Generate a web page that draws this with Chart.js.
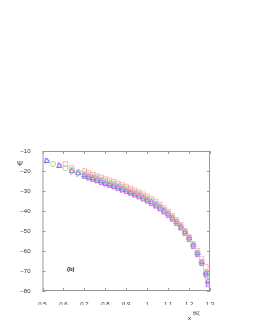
<!DOCTYPE html>
<html>
<head>
<meta charset="utf-8">
<script src="https://cdn.jsdelivr.net/npm/chart.js@4.4.0/dist/chart.umd.min.js"></script>
<style>
  html, body { margin: 0; padding: 0; background: #fff; }
  #wrap { position: relative; width: 253px; height: 327px; }
</style>
</head>
<body>
<div id="wrap"><canvas id="myChart" width="253" height="327"></canvas></div>
<script>
// valores
const xVals = [0.52,0.55,0.58,0.61,0.64,0.67,0.70,0.72,0.74,0.76,0.78,0.80,0.82,0.84,0.86,0.88,0.90,0.92,0.94,0.96,0.98,1.00,1.02,1.04,1.06,1.08,1.10,1.12,1.14,1.16,1.18,1.20,1.22,1.24,1.26,1.28,1.29];
const psiSquares = [null,null,null,-16.5,-18.5,null,-20,-21,-21.8,-22.5,-23.2,-24,-24.7,-25.4,-26.2,-27,-27.8,-28.7,-29.6,-30.6,-31.6,-32.7,-34,-35.3,-36.8,-38.5,-40.3,-42.3,-44.5,-47,-49.8,-53,-56.5,-60,-64,-68,-71];
const psiCircles = [null,-16.5,null,-18.5,-19.5,-20.5,-21.2,-22,-22.8,-23.5,-24.3,-25,-25.7,-26.5,-27.3,-28,-28.8,-29.7,-30.6,-31.5,-32.6,-33.7,-35,-36.3,-37.8,-39.4,-41.2,-43.2,-45.3,-47.7,-50.4,-53.4,-57,-61,-65.5,-71,-74];
const psiTriUp = [-15,null,-17.5,null,-20,-21,-22,-22.8,-23.5,-24.2,-25,-25.8,-26.5,-27.2,-28,-28.8,-29.6,-30.4,-31.3,-32.2,-33.2,-34.3,-35.5,-36.8,-38.2,-39.8,-41.5,-43.4,-45.5,-47.8,-50.5,-53.5,-57,-61,-65.5,-71,-75];
const psiTriRight = [-14.8,null,-17,null,-20.5,-21.5,-22.5,-23.3,-24,-24.8,-25.6,-26.4,-27.1,-27.8,-28.6,-29.4,-30.2,-31,-31.9,-32.8,-33.8,-34.9,-36.1,-37.4,-38.8,-40.4,-42.1,-44,-46.1,-48.4,-51.1,-54.1,-57.6,-61.6,-66.2,-71.8,-76];
const psiSqPurple = [null,null,null,null,null,null,-22.8,-23.6,-24.3,-25,-25.8,-26.6,-27.3,-28,-28.8,-29.6,-30.4,-31.2,-32.1,-33,-34,-35.1,-36.3,-37.6,-39,-40.6,-42.3,-44.2,-46.3,-48.6,-51.3,-54.3,-57.8,-61.8,-66.4,-72,-77];
const xTicks = [0.5,0.6,0.7,0.8,0.9,1,1.1,1.2,1.3];
const yTicks = [-10,-20,-30,-40,-50,-60,-70,-80];

function pts(ys) {
    return xVals.map((x, i) => ({ x: x, y: ys[i] })).filter(p => p.y !== null);
}

// marcas de los ejes hacia dentro, tambien arriba y a la derecha
const innerTicks = {
    id: 'innerTicks',
    afterDraw(chart) {
        const { ctx, chartArea: a, scales } = chart;
        ctx.save();
        ctx.strokeStyle = '#999';
        ctx.lineWidth = 1;
        ctx.strokeRect(a.left + 0.5, a.top + 0.5, a.right - a.left - 1, a.bottom - a.top - 1);
        ctx.beginPath();
        xTicks.forEach(v => {
            const px = Math.round(scales.x.getPixelForValue(v)) + 0.5;
            ctx.moveTo(px, a.bottom); ctx.lineTo(px, a.bottom - 3);
            ctx.moveTo(px, a.top); ctx.lineTo(px, a.top + 3);
        });
        yTicks.forEach(v => {
            const py = Math.round(scales.y.getPixelForValue(v)) + 0.5;
            ctx.moveTo(a.left, py); ctx.lineTo(a.left + 3, py);
            ctx.moveTo(a.right, py); ctx.lineTo(a.right - 3, py);
        });
        ctx.stroke();
        // textos
        ctx.fillStyle = '#222';
        ctx.font = '7px "Liberation Sans"';
        ctx.textAlign = 'center';
        ctx.fillText('Ψ', 20, 166);
        ctx.font = 'bold 6px "Liberation Sans"';
        ctx.fillText('(b)', scales.x.getPixelForValue(0.635), scales.y.getPixelForValue(-69) + 2);
        ctx.font = '6px "Liberation Sans"';
        ctx.textAlign = 'left';
        ctx.fillText('x', 188, 320);
        ctx.font = '5px "Liberation Sans"';
        ctx.fillText('θ/ζ', 193, 315);
        ctx.restore();
    }
};

const ctx = document.getElementById('myChart').getContext('2d');
const myChart = new Chart(ctx, {
    type: 'scatter',
    data: {
        datasets: [
            { data: pts(psiSquares), pointStyle: 'rect', borderColor: 'rgba(255,150,160,0.9)', pointRadius: 3.2 },
            { data: pts(psiCircles), pointStyle: 'circle', borderColor: 'rgba(120,220,120,0.9)', pointRadius: 2.6 },
            { data: pts(psiTriUp), pointStyle: 'triangle', borderColor: 'rgba(90,90,240,0.9)', pointRadius: 3 },
            { data: pts(psiTriRight), pointStyle: 'triangle', rotation: 90, borderColor: 'rgba(235,90,235,0.9)', pointRadius: 3 },
            { data: pts(psiSqPurple), pointStyle: 'rect', borderColor: 'rgba(170,90,240,0.9)', pointRadius: 2.5 }
        ].map(d => Object.assign({ backgroundColor: 'rgba(0,0,0,0)', borderWidth: 0.8 }, d))
    },
    options: {
        responsive: false,
        animation: false,
        layout: { padding: { left: 0, top: 151, right: 43, bottom: 22 } },
        plugins: { legend: { display: false }, tooltip: { enabled: false } },
        scales: {
            x: {
                type: 'linear', min: 0.5, max: 1.3,
                afterFit: s => { s.height = 14; },
                afterBuildTicks: s => { s.ticks = xTicks.map(v => ({ value: v })); },
                grid: { display: false },
                border: { display: false },
                ticks: { font: { family: 'Liberation Sans', size: 6 }, color: '#333', padding: 2,
                         maxRotation: 0, callback: v => String(v) }
            },
            y: {
                type: 'linear', min: -80, max: -10,
                afterFit: s => { s.width = 42.5; },
                afterBuildTicks: s => { s.ticks = yTicks.map(v => ({ value: v })); },
                grid: { display: false },
                border: { display: false },
                ticks: { font: { family: 'Liberation Sans', size: 6 }, color: '#333', padding: 4,
                         callback: v => String(v).replace('-', '\u2212') }
            }
        }
    },
    plugins: [innerTicks]
});
</script>
</body>
</html>
